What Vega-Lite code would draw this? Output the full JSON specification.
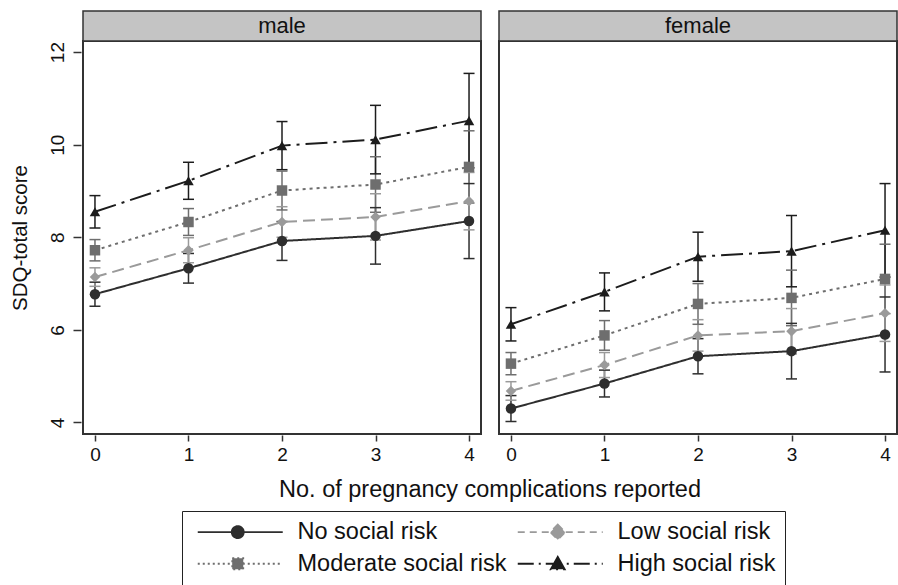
{
  "$schema": "https://vega.github.io/schema/vega-lite/v6.json",
  "background": "white",
  "padding": {"left": 10, "top": 9, "right": 1, "bottom": 0},
  "config": {
    "font": "Liberation Sans",
    "view": {"stroke": "#333333", "strokeWidth": 2},
    "facet": {"spacing": 14}
  },
  "data": {
    "values": [
      {"sex": "male", "risk": "No social risk", "x": 0, "y": 6.77, "lo": 6.51, "hi": 7.03},
      {"sex": "male", "risk": "No social risk", "x": 1, "y": 7.33, "lo": 7.01, "hi": 7.65},
      {"sex": "male", "risk": "No social risk", "x": 2, "y": 7.92, "lo": 7.50, "hi": 8.34},
      {"sex": "male", "risk": "No social risk", "x": 3, "y": 8.03, "lo": 7.42, "hi": 8.64},
      {"sex": "male", "risk": "No social risk", "x": 4, "y": 8.35, "lo": 7.54, "hi": 9.16},
      {"sex": "male", "risk": "Low social risk", "x": 0, "y": 7.14, "lo": 6.94, "hi": 7.34},
      {"sex": "male", "risk": "Low social risk", "x": 1, "y": 7.72, "lo": 7.45, "hi": 7.99},
      {"sex": "male", "risk": "Low social risk", "x": 2, "y": 8.33, "lo": 8.00, "hi": 8.66},
      {"sex": "male", "risk": "Low social risk", "x": 3, "y": 8.44, "lo": 7.94, "hi": 8.94},
      {"sex": "male", "risk": "Low social risk", "x": 4, "y": 8.78, "lo": 8.16, "hi": 9.40},
      {"sex": "male", "risk": "Moderate social risk", "x": 0, "y": 7.72, "lo": 7.49, "hi": 7.95},
      {"sex": "male", "risk": "Moderate social risk", "x": 1, "y": 8.33, "lo": 8.04, "hi": 8.62},
      {"sex": "male", "risk": "Moderate social risk", "x": 2, "y": 9.01, "lo": 8.59, "hi": 9.43},
      {"sex": "male", "risk": "Moderate social risk", "x": 3, "y": 9.14, "lo": 8.54, "hi": 9.74},
      {"sex": "male", "risk": "Moderate social risk", "x": 4, "y": 9.52, "lo": 8.74, "hi": 10.30},
      {"sex": "male", "risk": "High social risk", "x": 0, "y": 8.55, "lo": 8.20, "hi": 8.90},
      {"sex": "male", "risk": "High social risk", "x": 1, "y": 9.22, "lo": 8.82, "hi": 9.62},
      {"sex": "male", "risk": "High social risk", "x": 2, "y": 9.98, "lo": 9.46, "hi": 10.50},
      {"sex": "male", "risk": "High social risk", "x": 3, "y": 10.11, "lo": 9.37, "hi": 10.85},
      {"sex": "male", "risk": "High social risk", "x": 4, "y": 10.52, "lo": 9.50, "hi": 11.54},
      {"sex": "female", "risk": "No social risk", "x": 0, "y": 4.30, "lo": 4.02, "hi": 4.58},
      {"sex": "female", "risk": "No social risk", "x": 1, "y": 4.84, "lo": 4.55, "hi": 5.13},
      {"sex": "female", "risk": "No social risk", "x": 2, "y": 5.43, "lo": 5.05, "hi": 5.81},
      {"sex": "female", "risk": "No social risk", "x": 3, "y": 5.54, "lo": 4.94, "hi": 6.14},
      {"sex": "female", "risk": "No social risk", "x": 4, "y": 5.90, "lo": 5.09, "hi": 6.71},
      {"sex": "female", "risk": "Low social risk", "x": 0, "y": 4.68, "lo": 4.48, "hi": 4.88},
      {"sex": "female", "risk": "Low social risk", "x": 1, "y": 5.24, "lo": 4.97, "hi": 5.51},
      {"sex": "female", "risk": "Low social risk", "x": 2, "y": 5.88, "lo": 5.54, "hi": 6.22},
      {"sex": "female", "risk": "Low social risk", "x": 3, "y": 5.97, "lo": 5.48, "hi": 6.46},
      {"sex": "female", "risk": "Low social risk", "x": 4, "y": 6.36, "lo": 5.75, "hi": 6.97},
      {"sex": "female", "risk": "Moderate social risk", "x": 0, "y": 5.27, "lo": 5.03, "hi": 5.51},
      {"sex": "female", "risk": "Moderate social risk", "x": 1, "y": 5.88, "lo": 5.56, "hi": 6.20},
      {"sex": "female", "risk": "Moderate social risk", "x": 2, "y": 6.56, "lo": 6.12, "hi": 7.00},
      {"sex": "female", "risk": "Moderate social risk", "x": 3, "y": 6.69, "lo": 6.09, "hi": 7.29},
      {"sex": "female", "risk": "Moderate social risk", "x": 4, "y": 7.10, "lo": 6.35, "hi": 7.85},
      {"sex": "female", "risk": "High social risk", "x": 0, "y": 6.12, "lo": 5.76, "hi": 6.48},
      {"sex": "female", "risk": "High social risk", "x": 1, "y": 6.82, "lo": 6.41, "hi": 7.23},
      {"sex": "female", "risk": "High social risk", "x": 2, "y": 7.58, "lo": 7.05, "hi": 8.11},
      {"sex": "female", "risk": "High social risk", "x": 3, "y": 7.70, "lo": 6.93, "hi": 8.47},
      {"sex": "female", "risk": "High social risk", "x": 4, "y": 8.15, "lo": 7.14, "hi": 9.16}
    ]
  },
  "facet": {
    "column": {
      "field": "sex",
      "type": "nominal",
      "sort": ["male", "female"],
      "title": "No. of pregnancy complications reported",
      "header": {
        "labels": false,
        "titleOrient": "bottom",
        "titleFontSize": 23.5,
        "titleFontWeight": "normal",
        "titleColor": "#111111",
        "titlePadding": 4
      }
    }
  },
  "spec": {
    "width": 398,
    "height": 393,
    "encoding": {
      "x": {
        "field": "x",
        "type": "quantitative",
        "scale": {"domain": [-0.128, 4.128], "nice": false, "zero": false},
        "axis": {
          "title": null,
          "values": [0, 1, 2, 3, 4],
          "format": "d",
          "labelFontSize": 19,
          "labelColor": "#111111",
          "tickSize": 6,
          "tickColor": "#333333",
          "tickWidth": 1.5,
          "domain": false,
          "grid": false,
          "labelPadding": 4
        }
      }
    },
    "layer": [
      {
        "transform": [{"filter": "datum.risk === 'No social risk' && datum.x === 0"}],
        "mark": {"type": "rect", "fill": "#c4c4c4", "stroke": "#333333", "strokeWidth": 1.5},
        "encoding": {
          "x": {"datum": -0.128, "type": "quantitative"},
          "x2": {"datum": 4.128},
          "y": {"datum": 12.24, "type": "quantitative"},
          "y2": {"datum": 12.888}
        }
      },
      {
        "transform": [{"filter": "datum.risk === 'No social risk' && datum.x === 0"}],
        "mark": {"type": "text", "fontSize": 22, "color": "#111111", "baseline": "middle", "align": "center"},
        "encoding": {
          "x": {"datum": 2, "type": "quantitative"},
          "y": {"datum": 12.56, "type": "quantitative"},
          "text": {"field": "sex", "type": "nominal"}
        }
      },
      {
        "mark": {"type": "rule", "strokeWidth": 1.5},
        "encoding": {
          "y": {"field": "lo", "type": "quantitative"},
          "y2": {"field": "hi"},
          "color": {"field": "risk", "type": "nominal"}
        }
      },
      {
        "mark": {"type": "tick", "orient": "horizontal", "size": 11, "thickness": 1.5, "opacity": 1},
        "encoding": {
          "y": {"field": "lo", "type": "quantitative"},
          "color": {"field": "risk", "type": "nominal"}
        }
      },
      {
        "mark": {"type": "tick", "orient": "horizontal", "size": 11, "thickness": 1.5, "opacity": 1},
        "encoding": {
          "y": {"field": "hi", "type": "quantitative"},
          "color": {"field": "risk", "type": "nominal"}
        }
      },
      {
        "mark": {"type": "line", "strokeWidth": 2},
        "encoding": {
          "y": {
            "field": "y",
            "type": "quantitative",
            "scale": {"domain": [3.75, 12.24], "nice": false, "zero": false},
            "axis": {
              "title": "SDQ-total score",
              "titleFontSize": 20.5,
              "titleFontWeight": "normal",
              "titleColor": "#111111",
              "titlePadding": 18,
              "values": [4, 6, 8, 10, 12],
              "labelAngle": 270,
              "labelAlign": "center",
              "labelBaseline": "bottom",
              "labelFontSize": 19,
              "labelColor": "#111111",
              "labelPadding": 6,
              "tickSize": 8,
              "tickColor": "#333333",
              "tickWidth": 1.5,
              "domain": false,
              "grid": false
            }
          },
          "color": {
            "field": "risk",
            "type": "nominal",
            "scale": {
              "domain": ["No social risk", "Low social risk", "Moderate social risk", "High social risk"],
              "range": ["#2e2e2e", "#9a9a9a", "#6e6e6e", "#1c1c1c"]
            },
            "legend": {
              "orient": "none",
              "legendX": 99,
              "legendY": 470,
              "direction": "horizontal",
              "columns": 2,
              "title": null,
              "labelFontSize": 23.5,
              "labelColor": "#111111",
              "labelLimit": 0,
              "symbolSize": 100,
              "symbolOpacity": 1,
              "symbolStrokeWidth": 1.8,
              "labelOffset": 83,
              "columnPadding": 4,
              "rowPadding": 7,
              "padding": 9,
              "strokeColor": "#222222",
              "encode": {
                "symbols": {
                  "update": {
                    "shape": {"signal": "datum.value === 'No social risk' ? 'M-1,0H16M8.2,0A1.2,1.2,0,1,1,5.8,0A1.2,1.2,0,1,1,8.2,0Z' : datum.value === 'Low social risk' ? 'M-1,0H16M7,-1.5L8.5,0L7,1.5L5.5,0Z' : datum.value === 'Moderate social risk' ? 'M-1,0H16M5.9,-1.1H8.1V1.1H5.9Z' : 'M-1,0H16M7,-1.4L8.4,1.1L5.6,1.1Z'"},
                    "fill": {"signal": "scale('color', datum.value)"},
                    "stroke": {"signal": "scale('color', datum.value)"},
                    "strokeDash": {"signal": "datum.value === 'No social risk' ? [1,0] : datum.value === 'Low social risk' ? [7,5] : datum.value === 'Moderate social risk' ? [2,3] : [16,5,2,5]"},
                    "opacity": {"value": 1}
                  }
                }
              }
            }
          },
          "strokeDash": {
            "field": "risk",
            "type": "nominal",
            "scale": {
              "domain": ["High social risk", "Moderate social risk", "Low social risk", "No social risk"],
              "range": [[22, 6, 3, 6], [3, 4], [12, 6], [1, 0]]
            },
            "legend": null
          }
        }
      },
      {
        "mark": {"type": "point", "filled": true, "size": 110, "opacity": 1},
        "encoding": {
          "y": {"field": "y", "type": "quantitative"},
          "color": {"field": "risk", "type": "nominal"},
          "shape": {
            "field": "risk",
            "type": "nominal",
            "scale": {
              "domain": ["High social risk", "Moderate social risk", "Low social risk", "No social risk"],
              "range": ["triangle-up", "square", "diamond", "circle"]
            },
            "legend": null
          }
        }
      }
    ]
  }
}
